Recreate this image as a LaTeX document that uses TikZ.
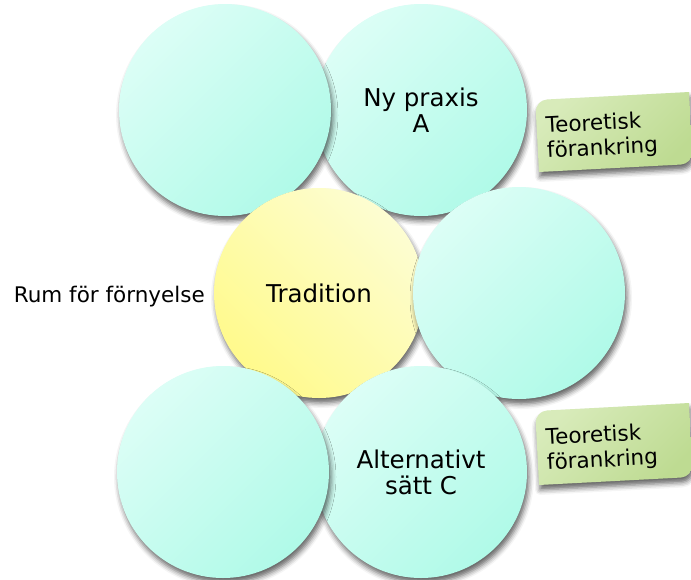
\documentclass[tikz,border=0pt]{standalone}
\usepackage{fontspec}
\setmainfont{DejaVu Sans}
\usetikzlibrary{shadows.blur}
\definecolor{tealA}{RGB}{220,254,246}
\definecolor{tealB}{RGB}{176,250,232}
\definecolor{yelA}{RGB}{253,253,210}
\definecolor{yelB}{RGB}{255,250,140}
\definecolor{grnA}{RGB}{216,235,186}
\definecolor{grnB}{RGB}{190,219,146}
\tikzset{
  circshadow/.style={blur shadow={shadow xshift=2pt, shadow yshift=-5pt, shadow blur radius=5pt, shadow opacity=60}},
  circ/.style={circle, inner sep=0pt, minimum size=212pt, top color=tealA, bottom color=tealB, shading angle=45,
    circshadow, align=center, font=\fontsize{24.5}{26}\selectfont},
  yelcirc/.style={circle, inner sep=0pt, minimum size=210pt, top color=yelA, bottom color=yelB, shading angle=-45,
    circshadow, align=center, font=\fontsize{24.5}{26}\selectfont},
  boxfill/.style={top color=grnA, bottom color=grnB, shading angle=45,
    blur shadow={shadow xshift=1pt, shadow yshift=-5pt, shadow blur radius=5pt, shadow opacity=60}},
  boxtext/.style={anchor=west, align=left, inner sep=0pt, rotate=3, font=\fontsize{21.5}{25}\selectfont},
  plaintext/.style={inner sep=0pt, font=\fontsize{21.5}{24}\selectfont}
}
\begin{document}
\begin{tikzpicture}[x=1pt,y=-1pt]
\useasboundingbox (0,0) rectangle (691,579);
% circles, back to front
\node[circ] (tr) at (421,110) {Ny praxis\\A};
\node[circ] (tl) at (225,110) {};
\node[yelcirc] (tc) at (319,293) {Tradition};
\node[circ] (mr) at (519,293) {};
\node[circ] (br) at (421,472) {Alternativt\\sätt C};
\node[circ] (bl) at (223,472) {};
% left label
\node[plaintext, anchor=base east] (rum) at (205,302) {Rum för förnyelse};
% green boxes
\begin{scope}[shift={(614pt,-132pt)}, rotate=3, x=1pt, y=1pt]
  \path[boxfill] (-77,-36) -- (-77,24) arc[start angle=180, end angle=90, radius=12]
     -- (77,36) -- (77,-24) arc[start angle=0, end angle=-90, radius=12] -- cycle;
  \node[boxtext] (b1) at (-68,-4) {Teoretisk\\förankring};
\end{scope}
\begin{scope}[shift={(614pt,-444pt)}, rotate=3, x=1pt, y=1pt]
  \path[boxfill] (-77,-37) -- (-77,25) arc[start angle=180, end angle=90, radius=12]
     -- (77,37) -- (77,-25) arc[start angle=0, end angle=-90, radius=12] -- cycle;
  \node[boxtext] (b2) at (-68,-4) {Teoretisk\\förankring};
\end{scope}
\end{tikzpicture}
\end{document}
